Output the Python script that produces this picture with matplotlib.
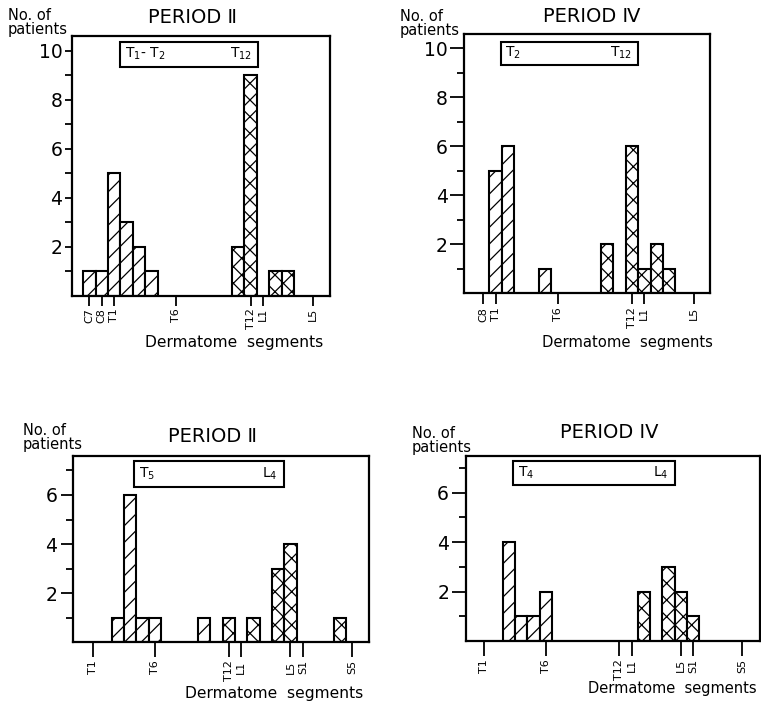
import matplotlib.pyplot as plt
from matplotlib.patches import Rectangle

W, H = 761, 705

# dermatome order used as x axis
segments = ["C7", "C8",
            "T1", "T2", "T3", "T4", "T5", "T6", "T7", "T8", "T9", "T10", "T11", "T12",
            "L1", "L2", "L3", "L4", "L5",
            "S1", "S2", "S3", "S4", "S5"]

# Period II, upper panel
p2a_diag_seg = ["C7", "C8", "T1", "T2", "T3", "T4"]
p2a_diag_n = [1, 1, 5, 3, 2, 1]
p2a_cross_seg = ["T11", "T12", "L2", "L3"]
p2a_cross_n = [2, 9, 1, 1]
p2a_ticks = ["C7", "C8", "T1", "T6", "T12", "L1", "L5"]
p2a_range = ["T$_1$- T$_2$", "T$_{12}$"]

# Period IV, upper panel
p4a_diag_seg = ["T1", "T2", "T5"]
p4a_diag_n = [5, 6, 1]
p4a_cross_seg = ["T10", "T12", "L1", "L2", "L3"]
p4a_cross_n = [2, 6, 1, 2, 1]
p4a_ticks = ["C8", "T1", "T6", "T12", "L1", "L5"]
p4a_range = ["T$_2$", "T$_{12}$"]

# Period II, lower panel
p2b_diag_seg = ["T3", "T4", "T5", "T6", "T10"]
p2b_diag_n = [1, 6, 1, 1, 1]
p2b_cross_seg = ["T12", "L2", "L4", "L5", "S4"]
p2b_cross_n = [1, 1, 3, 4, 1]
p2b_ticks = ["T1", "T6", "T12", "L1", "L5", "S1", "S5"]
p2b_range = ["T$_5$", "L$_4$"]

# Period IV, lower panel
p4b_diag_seg = ["T3", "T4", "T5", "T6"]
p4b_diag_n = [4, 1, 1, 2]
p4b_cross_seg = ["L2", "L4", "L5", "S1"]
p4b_cross_n = [2, 3, 2, 1]
p4b_ticks = ["T1", "T6", "T12", "L1", "L5", "S1", "S5"]
p4b_range = ["T$_4$", "L$_4$"]

plt.rcParams["font.family"] = "DejaVu Sans"
plt.rcParams["hatch.linewidth"] = 0.9


def px_rect(l, t, r, b):
	return [l / W, 1 - b / H, (r - l) / W, (b - t) / H]


def draw_panel(fig, rect, xlim, ylim, box, title, title_xy, ylab_xy, xlab_xy, xlab_size,
               diag_seg, diag_n, cross_seg, cross_n, ticks, rng, xtick_len, ytick_len):
	ax = fig.add_axes(px_rect(*rect))
	xd = [segments.index(s) for s in diag_seg]
	xc = [segments.index(s) for s in cross_seg]
	ax.bar(xd, diag_n, width=1.0, color="white", edgecolor="black", linewidth=1.5, hatch="//")
	ax.bar(xc, cross_n, width=1.0, color="white", edgecolor="black", linewidth=1.5, hatch="xx")
	ax.set_xlim(*xlim)
	ax.set_ylim(*ylim)

	top = int(ylim[1])
	ax.set_yticks(list(range(2, top + 1, 2)))
	ax.set_yticks([v for v in range(1, top + 1) if v % 2 == 1], minor=True)
	ax.tick_params(axis="y", which="major", direction="out", length=ytick_len, width=1.3,
	               labelsize=13.5, pad=2)
	ax.tick_params(axis="y", which="minor", direction="out", length=5, width=1.3)

	ax.set_xticks([segments.index(s) for s in ticks])
	ax.set_xticklabels(ticks, rotation=90)
	ax.tick_params(axis="x", direction="out", length=xtick_len, width=1.3, labelsize=8, pad=2)

	for sp in ax.spines.values():
		sp.set_linewidth(1.6)

	# range box
	x0, x1, y0, y1 = box
	ax.add_patch(Rectangle((x0, y0), x1 - x0, y1 - y0, fill=False, edgecolor="black", linewidth=1.5))
	ax.text(x0 + 0.35, (y0 + y1) / 2, rng[0], ha="left", va="center", fontsize=10)
	ax.text(x1 - 0.5, (y0 + y1) / 2, rng[1], ha="right", va="center", fontsize=10)

	fig.text(title_xy[0] / W, 1 - title_xy[1] / H, title, ha="center", va="baseline", fontsize=14)
	fig.text(ylab_xy[0] / W, 1 - ylab_xy[1] / H, "No. of\npatients", ha="left", va="top",
	         fontsize=10.5, linespacing=0.9)
	fig.text(xlab_xy[0] / W, 1 - xlab_xy[1] / H, "Dermatome  segments", ha="left", va="baseline",
	         fontsize=xlab_size)
	return ax


fig = plt.figure(figsize=(W / 100, H / 100), dpi=100)

draw_panel(fig, (72, 36, 330, 295.7), (-1.4, 19.4), (0, 10.6), (2.5, 13.6, 9.35, 10.37),
           "PERIOD \u2161", (192.5, 23), (8, 8), (145, 346.7), 11.2,
           p2a_diag_seg, p2a_diag_n, p2a_cross_seg, p2a_cross_n, p2a_ticks, p2a_range, 7, 5)

draw_panel(fig, (464.3, 34.3, 710, 293.3), (-0.53, 19.3), (0, 10.57), (2.43, 13.5, 9.32, 10.27),
           "PERIOD \u2163", (591.5, 21.7), (400, 9), (541.7, 346.7), 10.6,
           p4a_diag_seg, p4a_diag_n, p4a_cross_seg, p4a_cross_n, p4a_ticks, p4a_range, 8, 10)

draw_panel(fig, (72.7, 455.7, 369.3, 642.3), (0.33, 24.4), (0, 7.6), (5.33, 17.45, 6.34, 7.38),
           "PERIOD \u2161", (213, 441.7), (23, 423), (185, 698), 11.2,
           p2b_diag_seg, p2b_diag_n, p2b_cross_seg, p2b_cross_n, p2b_ticks, p2b_range, 11, 9)

draw_panel(fig, (465.7, 455.7, 759.5, 641), (0.49, 24.4), (0, 7.5), (4.36, 17.5, 6.32, 7.3),
           "PERIOD IV", (609, 438), (411.7, 426), (588, 693.3), 10.5,
           p4b_diag_seg, p4b_diag_n, p4b_cross_seg, p4b_cross_n, p4b_ticks, p4b_range, 11, 10)

fig.savefig("out.png", dpi=100)
